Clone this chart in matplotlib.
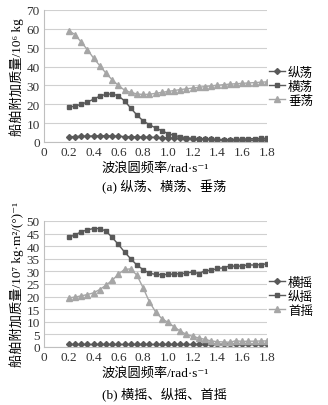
import numpy as np
import matplotlib.pyplot as plt

plt.rcParams['font.family'] = ['Liberation Serif', 'Noto Sans CJK SC', 'DejaVu Serif']

# wave frequency, rad/s
freq = [0.2, 0.25, 0.3, 0.35, 0.4, 0.45, 0.5, 0.55, 0.6, 0.65, 0.7, 0.75, 0.8,
        0.85, 0.9, 0.95, 1.0, 1.05, 1.1, 1.15, 1.2, 1.25, 1.3, 1.35, 1.4, 1.45,
        1.5, 1.55, 1.6, 1.65, 1.7, 1.75, 1.8]

# (a) added mass, 10^6 kg
surge = [2.8, 2.9, 3.0, 3.1, 3.2, 3.3, 3.3, 3.2, 3.0, 2.9, 2.8, 2.7, 2.6,
         2.5, 2.4, 2.3, 2.2, 2.0, 1.9, 1.8, 1.7, 1.6, 1.5, 1.4, 1.3, 1.2,
         1.1, 1.1, 1.0, 1.0, 1.0, 0.9, 0.9]
sway = [18.5, 19.0, 20.0, 21.2, 22.7, 24.3, 25.3, 25.5, 24.5, 21.8, 18.0, 14.3, 11.2,
        9.2, 7.5, 6.0, 4.5, 3.5, 2.8, 2.3, 2.0, 1.8, 1.6, 1.5, 1.4, 1.3,
        1.3, 1.5, 1.6, 1.7, 1.8, 1.9, 2.0]
heave = [59.0, 57.0, 53.0, 49.0, 44.5, 40.5, 36.5, 33.0, 30.0, 27.5, 26.3, 25.5, 25.2,
         25.3, 25.8, 26.3, 26.8, 27.3, 27.8, 28.2, 28.6, 29.0, 29.4, 29.8, 30.1, 30.4,
         30.7, 30.9, 31.1, 31.3, 31.5, 31.7, 31.9]

# (b) added inertia, 10^7 kg*m^2
roll = [1.0] * 33
pitch = [43.5, 44.5, 45.7, 46.5, 47.0, 47.0, 46.0, 43.5, 40.7, 37.7, 35.0, 32.5, 30.7,
         29.3, 28.8, 28.7, 28.8, 29.0, 29.1, 29.3, 29.8, 29.1, 30.3, 30.4, 31.2, 31.4,
         32.2, 32.0, 32.2, 32.6, 32.5, 32.7, 33.0]
yaw = [19.5, 19.8, 20.3, 20.8, 21.5, 22.8, 24.5, 26.5, 28.8, 30.8, 31.0, 28.5, 23.5,
       18.0, 14.0, 11.3, 9.8, 8.0, 6.3, 5.0, 4.2, 3.6, 3.0, 2.4, 2.1, 2.0,
       1.9, 2.5, 2.2, 2.3, 2.3, 2.4, 2.4]

xticks = [0, 0.2, 0.4, 0.6, 0.8, 1.0, 1.2, 1.4, 1.6, 1.8]
xtick_labels = ['0', '0.2', '0.4', '0.6', '0.8', '1.0', '1.2', '1.4', '1.6', '1.8']

DARK = '#595959'
LIGHT = '#a6a6a6'
FS = 9.5


def style_axes(ax, ymax, ystep):
    ax.set_xlim(0, 1.8)
    ax.set_ylim(0, ymax)
    ax.set_xticks(xticks)
    ax.set_xticklabels(xtick_labels)
    ax.set_yticks(np.arange(0, ymax + 0.1, ystep))
    ax.yaxis.grid(True, color='#d0d0d0', lw=0.8)
    ax.set_axisbelow(True)
    for s in ['top', 'right']:
        ax.spines[s].set_visible(False)
    ax.spines['left'].set_color('#bfbfbf')
    ax.spines['bottom'].set_color('#bfbfbf')
    ax.tick_params(length=0, labelsize=FS, colors='#333333', pad=3)


def add_legend(ax, ycenter):
    ax.legend(loc='center left', bbox_to_anchor=(1.01, ycenter), frameon=False,
              fontsize=9, handlelength=1.3, handletextpad=0.2, labelspacing=0.15,
              borderaxespad=0, borderpad=0)


fig = plt.figure(figsize=(3.28, 4.06), dpi=100)

ax1 = fig.add_axes([44 / 328, 1 - 143 / 406, 223 / 328, 132 / 406])
ax1.plot(freq, surge, color=DARK, marker='D', ms=3.0, lw=1, label='纵荡')
ax1.plot(freq, sway, color=DARK, marker='s', ms=3.3, lw=1, label='横荡')
ax1.plot(freq, heave, color=LIGHT, marker='^', ms=4.3, lw=1, label='垂荡')
style_axes(ax1, 70, 10)
ax1.set_ylabel('船舶附加质量/10⁶ kg', fontsize=FS, labelpad=2)
ax1.set_xlabel('波浪圆频率/rad·s⁻¹', fontsize=FS, labelpad=2)
add_legend(ax1, 0.42)
fig.text(0.5, 1 - 187 / 406, '(a) 纵荡、横荡、垂荡', ha='center', va='center', fontsize=FS)

ax2 = fig.add_axes([44 / 328, 1 - 348 / 406, 223 / 328, 126 / 406])
ax2.plot(freq, roll, color=DARK, marker='D', ms=3.0, lw=1, label='横摇')
ax2.plot(freq, pitch, color=DARK, marker='s', ms=3.3, lw=1, label='纵摇')
ax2.plot(freq, yaw, color=LIGHT, marker='^', ms=4.3, lw=1, label='首摇')
style_axes(ax2, 50, 5)
ax2.set_ylabel('船舶附加质量/10⁷ kg·m²/(°)⁻¹', fontsize=FS, labelpad=2)
ax2.set_xlabel('波浪圆频率/rad·s⁻¹', fontsize=FS, labelpad=2)
add_legend(ax2, 0.40)
fig.text(0.5, 1 - 394 / 406, '(b) 横摇、纵摇、首摇', ha='center', va='center', fontsize=FS)

fig.savefig('out.png', dpi=100)
